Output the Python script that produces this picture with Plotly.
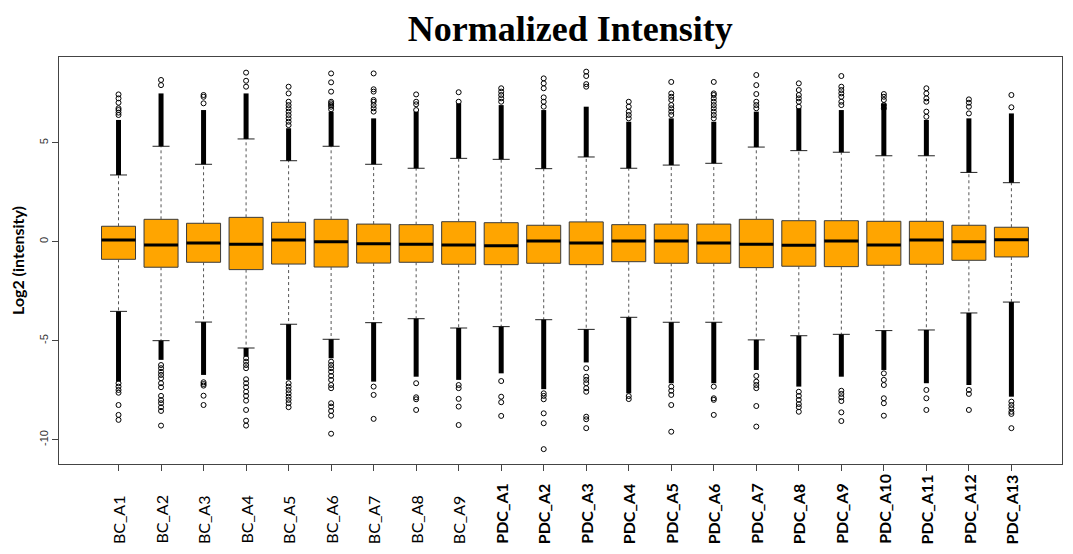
import plotly.graph_objects as go

samples = ["BC_A1", "BC_A2", "BC_A3", "BC_A4", "BC_A5", "BC_A6", "BC_A7", "BC_A8", "BC_A9",
           "PDC_A1", "PDC_A2", "PDC_A3", "PDC_A4", "PDC_A5", "PDC_A6", "PDC_A7", "PDC_A8",
           "PDC_A9", "PDC_A10", "PDC_A11", "PDC_A12", "PDC_A13"]

q1 = [-0.89, -1.29, -1.04, -1.41, -1.13, -1.28, -1.08, -1.04, -1.14, -1.16, -1.09,
      -1.16, -1.01, -1.09, -1.09, -1.31, -1.24, -1.26, -1.19, -1.14, -0.94, -0.77]
median = [0.09, -0.17, -0.07, -0.13, 0.09, 0.00, -0.10, -0.13, -0.17, -0.20, 0.04,
          -0.07, 0.04, 0.04, -0.07, -0.13, -0.18, 0.04, -0.17, 0.09, 0.00, 0.10]
q3 = [0.78, 1.13, 0.93, 1.23, 0.98, 1.13, 0.89, 0.86, 1.01, 0.96, 0.83,
      1.00, 0.86, 0.89, 0.89, 1.13, 1.06, 1.06, 1.03, 1.03, 0.83, 0.73]
upper_whisker = [3.37, 4.82, 3.91, 5.19, 4.09, 4.82, 3.91, 3.71, 4.21, 4.16, 3.69,
                 4.28, 3.71, 3.87, 3.96, 4.78, 4.60, 4.52, 4.34, 4.34, 3.50, 2.98]
lower_whisker = [-3.52, -5.00, -4.06, -5.37, -4.17, -4.93, -4.09, -3.89, -4.36, -4.29, -3.94,
                 -4.43, -3.82, -4.07, -4.07, -4.96, -4.75, -4.68, -4.49, -4.46, -3.60, -3.05]

# extent of the dense (overlapping) outlier run beyond each whisker
upper_dense_end = [6.15, 7.49, 6.65, 7.49, 5.73, 6.57, 6.23, 6.57, 6.99, 6.90, 6.65,
                   6.82, 6.06, 6.23, 6.06, 6.57, 6.74, 6.65, 6.99, 6.15, 6.23, 6.48]
lower_dense_end = [-7.07, -5.97, -6.73, -5.81, -6.98, -5.89, -7.07, -6.82, -6.98, -6.65, -7.45,
                   -6.10, -7.66, -7.15, -7.15, -6.48, -7.32, -6.82, -6.48, -7.15, -7.24, -7.83]

# individually visible outliers
upper_outliers = [
    [7.44, 7.24, 7.02, 6.74, 6.65, 6.52, 6.40],
    [8.17, 7.91],
    [7.41, 7.32, 6.99],
    [8.54, 8.13, 7.83],
    [7.83, 7.49, 7.07, 6.90, 6.74, 6.57, 6.40, 6.23, 6.06, 5.89],
    [8.50, 8.05, 7.58, 7.07, 6.99, 6.90, 6.82, 6.69],
    [8.50, 7.70, 7.58, 7.16, 7.07, 6.90, 6.74, 6.57],
    [7.44, 7.07, 6.94, 6.65],
    [7.55, 7.07],
    [7.75, 7.58, 7.41, 7.24, 7.07],
    [8.25, 8.00, 7.75, 7.29, 7.07, 6.82],
    [8.59, 8.37, 7.96, 7.83],
    [7.07, 6.82, 6.57, 6.40, 6.23],
    [8.07, 7.49, 7.32, 7.16, 6.90, 6.74, 6.57, 6.40],
    [8.07, 7.49, 7.41, 7.24, 7.07, 6.90, 6.74, 6.57, 6.40, 6.23],
    [8.42, 7.91, 7.46, 7.07, 6.90, 6.74],
    [8.00, 7.66, 7.41, 7.24, 7.07, 6.82],
    [8.37, 7.83, 7.66, 7.49, 7.32, 7.07, 6.90],
    [7.46, 7.32, 7.16, 6.90, 6.74],
    [7.75, 7.49, 7.24, 7.07, 6.57, 6.31],
    [7.19, 7.02, 6.82, 6.48],
    [7.41, 6.79],
]
lower_outliers = [
    [-7.15, -7.32, -7.49, -7.63, -8.25, -8.75, -9.00],
    [-6.23, -6.39, -6.57, -6.73, -6.90, -7.15, -7.35, -7.79, -8.00, -8.16, -8.36, -8.55, -9.29],
    [-7.10, -7.19, -7.27, -7.78, -8.25],
    [-5.89, -6.06, -6.23, -6.39, -6.95, -7.15, -7.35, -7.58, -7.79, -8.03, -8.50, -9.04, -9.29],
    [-7.15, -7.32, -7.49, -7.66, -7.83, -7.99, -8.16, -8.36],
    [-6.06, -6.23, -6.39, -6.57, -6.78, -6.98, -7.24, -7.40, -8.16, -8.33, -8.55, -8.79, -9.70],
    [-7.32, -7.74, -8.95],
    [-7.15, -7.86, -7.96, -8.50],
    [-7.24, -7.40, -7.94, -8.33, -9.26],
    [-7.04, -7.83, -8.11, -8.80],
    [-7.66, -7.79, -7.96, -8.67, -9.17, -10.48],
    [-6.39, -6.82, -6.98, -7.15, -7.40, -7.58, -8.84, -8.97, -9.42],
    [-7.80, -7.95],
    [-7.32, -7.53, -7.74, -8.25, -9.60],
    [-7.32, -7.91, -7.99, -8.75],
    [-6.78, -7.07, -7.24, -7.40, -8.30, -9.34],
    [-7.58, -7.79, -7.99, -8.20, -8.36, -8.59],
    [-7.53, -7.69, -7.86, -8.05, -8.62, -9.06],
    [-6.65, -6.98, -7.24, -7.91, -8.16, -8.79],
    [-7.49, -7.91, -8.50],
    [-7.49, -7.69, -8.50],
    [-8.08, -8.25, -8.41, -8.59, -8.70, -9.42],
]

y_tick_vals = [-10, -5, 0, 5]
y_tick_text = ["-10", "-5", "0", "5"]

BOX_W = 0.8
CAP_HALF = 0.2
pos = list(range(1, len(samples) + 1))

fig = go.Figure()

# dashed whiskers
wx, wy = [], []
for i, p in enumerate(pos):
    wx += [p, p, None, p, p, None]
    wy += [q3[i], upper_whisker[i], None, q1[i], lower_whisker[i], None]
fig.add_trace(go.Scatter(x=wx, y=wy, mode="lines", hoverinfo="skip",
                         line=dict(color="#555555", width=1, dash="3px,3px")))

# boxes
fig.add_trace(go.Box(x=pos, q1=q1, median=median, q3=q3,
                     lowerfence=q1, upperfence=q3, width=BOX_W,
                     fillcolor="#FFA500", line=dict(color="#3a3a3a", width=1),
                     whiskerwidth=0, hoverinfo="skip", boxpoints=False))

# medians
mx, my = [], []
for i, p in enumerate(pos):
    mx += [p - BOX_W / 2, p + BOX_W / 2, None]
    my += [median[i], median[i], None]
fig.add_trace(go.Scatter(x=mx, y=my, mode="lines", hoverinfo="skip",
                         line=dict(color="black", width=3)))

# staples
cx, cy = [], []
for i, p in enumerate(pos):
    cx += [p - CAP_HALF, p + CAP_HALF, None, p - CAP_HALF, p + CAP_HALF, None]
    cy += [upper_whisker[i], upper_whisker[i], None, lower_whisker[i], lower_whisker[i], None]
fig.add_trace(go.Scatter(x=cx, y=cy, mode="lines", hoverinfo="skip",
                         line=dict(color="#222222", width=1)))

# dense outlier runs
dx, dy = [], []
for i, p in enumerate(pos):
    dx += [p, p, None, p, p, None]
    dy += [upper_whisker[i], upper_dense_end[i], None, lower_whisker[i], lower_dense_end[i], None]
fig.add_trace(go.Scatter(x=dx, y=dy, mode="lines", hoverinfo="skip",
                         line=dict(color="black", width=5)))

# individual outliers
ox, oy = [], []
for i, p in enumerate(pos):
    for v in upper_outliers[i] + lower_outliers[i]:
        ox.append(p)
        oy.append(v)
fig.add_trace(go.Scatter(x=ox, y=oy, mode="markers", hoverinfo="skip",
                         marker=dict(symbol="circle-open", size=5,
                                     color="black", line=dict(width=1, color="black"))))

# x labels (rotated, start-aligned at the bottom)
for i, p in enumerate(pos):
    name = samples[i]
    txt = f"<b>{name}</b>" if name.startswith("PDC") else name
    fig.add_annotation(x=p, y=-0.2015, xref="x", yref="paper", text=txt,
                       textangle=-90, showarrow=False, xanchor="center", yanchor="bottom",
                       font=dict(family="Lato, Open Sans, sans-serif", size=16, color="black"))

# page body has an 8px margin, so the figure is offset by 8px right/down
fig.update_layout(
    width=1065, height=546,
    margin=dict(l=47, r=10, t=49, b=90),
    paper_bgcolor="white", plot_bgcolor="white",
    showlegend=False,
    title=dict(text="<b>Normalized Intensity</b>", x=0.528, xanchor="center",
               y=0.962, yanchor="middle",
               font=dict(family="Liberation Serif, Times New Roman, serif", size=36, color="black")),
    xaxis=dict(range=[-0.40, 23.19], tickvals=pos, ticktext=[""] * len(pos),
               ticks="outside", ticklen=6, tickcolor="#444444",
               showgrid=False, zeroline=False, showline=True, linecolor="#444444",
               linewidth=1, mirror=True),
    yaxis=dict(range=[-11.23, 9.33], tickvals=y_tick_vals, ticktext=y_tick_text,
               tickangle=-90, ticks="outside", ticklen=6, tickcolor="#444444",
               tickfont=dict(family="Liberation Sans, Arial, sans-serif", size=11, color="#333333"),
               showgrid=False, zeroline=False, showline=True, linecolor="#444444",
               linewidth=1, mirror=True,
               title=dict(text="<b>Log2 (intensity)</b>", standoff=8,
                          font=dict(family="Lato, Open Sans, sans-serif", size=16, color="black"))),
)

fig.write_html("out.html")
